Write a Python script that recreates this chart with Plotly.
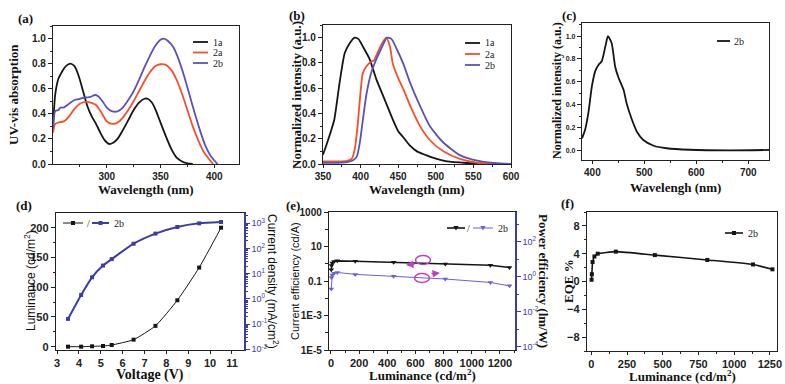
import plotly.graph_objects as go

W, H = 785, 384
SANS = "Liberation Sans"
SERIF = "Liberation Serif"
BLACK = "#151515"
RED = "#f4502a"
BLUE = "#5a52b8"
NAVY = "#3c3ca4"
PBLUE = "#6a62d0"
MAG = "#c040c0"

# ---------------- data ----------------
# (a) UV-vis absorption
a_1a_x = [250, 252, 255, 258, 262, 266, 270, 274, 278, 282, 286, 290, 294, 298, 302, 306, 310, 315, 320, 325, 330, 335, 338, 342, 346, 350, 355, 360, 365, 370, 375, 380]
a_1a_y = [0.28, 0.55, 0.68, 0.73, 0.78, 0.80, 0.78, 0.70, 0.58, 0.46, 0.38, 0.32, 0.25, 0.19, 0.16, 0.17, 0.20, 0.27, 0.35, 0.43, 0.49, 0.52, 0.52, 0.49, 0.42, 0.33, 0.22, 0.12, 0.05, 0.02, 0.005, 0.0]
a_2a_x = [250, 252, 255, 260, 265, 270, 275, 280, 285, 290, 295, 300, 305, 310, 315, 320, 325, 330, 335, 340, 345, 350, 355, 360, 365, 370, 375, 380, 385, 390, 395, 399]
a_2a_y = [0.25, 0.32, 0.33, 0.34, 0.38, 0.44, 0.48, 0.495, 0.49, 0.47, 0.41, 0.34, 0.32, 0.33, 0.37, 0.43, 0.50, 0.58, 0.66, 0.73, 0.78, 0.795, 0.79, 0.75, 0.67, 0.56, 0.43, 0.30, 0.19, 0.10, 0.04, 0.0]
a_2b_x = [250, 252, 255, 257, 260, 265, 270, 275, 280, 285, 289, 292, 296, 300, 305, 310, 315, 320, 325, 330, 335, 340, 345, 350, 353, 357, 362, 367, 372, 377, 382, 387, 392, 397, 403]
a_2b_y = [0.28, 0.42, 0.43, 0.45, 0.45, 0.48, 0.51, 0.52, 0.53, 0.535, 0.55, 0.54, 0.50, 0.45, 0.42, 0.42, 0.45, 0.51, 0.58, 0.67, 0.77, 0.86, 0.94, 0.99, 1.0, 0.98, 0.93, 0.83, 0.70, 0.55, 0.40, 0.26, 0.14, 0.06, 0.0]
a_names = ["1a", "2a", "2b"]

# (b) PL spectra
b_1a_x = [350, 354, 360, 365, 372, 379, 386, 392, 397, 403, 412, 421, 432, 443, 450, 457, 465, 475, 487, 497, 515, 541, 570, 600]
b_1a_y = [0.074, 0.14, 0.25, 0.35, 0.64, 0.88, 0.96, 1.0, 0.99, 0.93, 0.83, 0.67, 0.51, 0.35, 0.26, 0.21, 0.15, 0.10, 0.07, 0.048, 0.02, 0.008, 0.002, 0.0]
b_2a_x = [350, 370, 382, 388, 392, 396, 399, 403, 408, 414, 418, 421, 428, 434, 439, 443, 450, 457, 466, 479, 492, 510, 532, 555, 580, 600]
b_2a_y = [0.02, 0.02, 0.025, 0.04, 0.11, 0.30, 0.51, 0.72, 0.775, 0.81, 0.82, 0.86, 0.95, 1.0, 0.93, 0.79, 0.68, 0.59, 0.46, 0.30, 0.19, 0.10, 0.04, 0.01, 0.002, 0.0]
b_2b_x = [350, 370, 382, 390, 395, 399, 403, 408, 414, 421, 428, 435, 441, 448, 457, 466, 479, 492, 510, 532, 555, 577, 600]
b_2b_y = [0.01, 0.01, 0.015, 0.03, 0.06, 0.17, 0.35, 0.56, 0.72, 0.83, 0.92, 1.0, 0.99, 0.91, 0.79, 0.64, 0.46, 0.30, 0.17, 0.07, 0.026, 0.008, 0.0]
b_names = ["1a", "2a", "2b"]

# (c) EL spectrum 2b
c_x = [380, 386, 393, 399, 406, 412, 418, 425, 430, 437, 444, 450, 460, 466, 476, 486, 498, 518, 543, 588, 665, 740]
c_y = [0.105, 0.18, 0.35, 0.56, 0.70, 0.75, 0.78, 0.91, 1.0, 0.94, 0.73, 0.64, 0.53, 0.41, 0.27, 0.16, 0.09, 0.04, 0.018, 0.005, 0.0, 0.003]

# (d) L-J-V
d_volt = [3.5, 4.1, 4.6, 5.1, 5.5, 6.5, 7.5, 8.5, 9.5, 10.5]
d_lum = [0, 0, 0.6, 1.1, 2.8, 11.8, 35, 78, 133, 200]
d_cur = [0.16, 1.43, 7.2, 21, 38, 155, 390, 716, 1000, 1130]

# (e) efficiencies vs luminance
e_lum = [2, 4, 9, 22, 45, 172, 445, 812, 1132, 1268]
e_ce = [0.45, 0.8, 1.12, 1.34, 1.47, 1.4, 1.23, 0.98, 0.82, 0.6]
e_pe = [0.2, 0.9, 1.25, 1.6, 1.75, 1.36, 1.05, 0.74, 0.47, 0.3]

# (f) EQE vs luminance
f_lum = [2, 4, 9, 22, 45, 172, 445, 812, 1132, 1268]
f_eqe = [0.25, 1.05, 2.8, 3.6, 4.0, 4.3, 3.8, 3.1, 2.45, 1.75]

# ---------------- helpers ----------------
def px(x):
    return x / W

def py(y):
    return 1 - y / H

def dom_x(x0, x1):
    return [px(x0), px(x1)]

def dom_y(y_top, y_bot):
    return [py(y_bot), py(y_top)]

def axis(domain, rng, anchor, size=10, weight="bold", **kw):
    d = dict(domain=domain, range=rng, anchor=anchor, showline=True, linecolor="#222",
             linewidth=1.4, mirror=True, ticks="outside", ticklen=4, tickwidth=1,
             tickcolor="#222", showgrid=False, zeroline=False, automargin=False,
             tickfont=dict(family=SANS, size=size, color="#222", weight=weight))
    d.update(kw)
    return d

fig = go.Figure()

def spec(xs, ys, name, col, xa, ya):
    fig.add_trace(go.Scatter(x=xs, y=ys, name=name, mode="lines",
                             line=dict(color=col, width=1.8, shape="spline", smoothing=0.6),
                             xaxis=xa, yaxis=ya, showlegend=False))

# (a)
spec(a_1a_x, a_1a_y, a_names[0], BLACK, "x", "y")
spec(a_2a_x, a_2a_y, a_names[1], RED, "x", "y")
spec(a_2b_x, a_2b_y, a_names[2], BLUE, "x", "y")
# (b)
spec(b_1a_x, b_1a_y, b_names[0], BLACK, "x2", "y2")
spec(b_2a_x, b_2a_y, b_names[1], RED, "x2", "y2")
spec(b_2b_x, b_2b_y, b_names[2], BLUE, "x2", "y2")
# (c)
spec(c_x, c_y, "2b", BLACK, "x3", "y3")
# (d)
fig.add_trace(go.Scatter(x=d_volt, y=d_lum, name="/", mode="lines+markers", line=dict(color=BLACK, width=1, shape="spline", smoothing=0.5),
                         marker=dict(symbol="square", size=4, color=BLACK), xaxis="x4", yaxis="y4", showlegend=False))
fig.add_trace(go.Scatter(x=d_volt, y=d_cur, name="2b", mode="lines+markers", line=dict(color=NAVY, width=2, shape="spline", smoothing=0.5),
                         marker=dict(symbol="square", size=4, color=NAVY), xaxis="x4", yaxis="y7", showlegend=False))
# (e)
fig.add_trace(go.Scatter(x=e_lum, y=e_ce, name="/", mode="lines+markers", line=dict(color=BLACK, width=1.6),
                         marker=dict(symbol="triangle-down", size=5, color=BLACK), xaxis="x5", yaxis="y5", showlegend=False))
fig.add_trace(go.Scatter(x=e_lum, y=e_pe, name="2b", mode="lines+markers", line=dict(color=PBLUE, width=1),
                         marker=dict(symbol="triangle-down", size=5, color=PBLUE), xaxis="x5", yaxis="y8", showlegend=False))
# (f)
fig.add_trace(go.Scatter(x=f_lum, y=f_eqe, name="2b", mode="lines+markers", line=dict(color=BLACK, width=1.6, shape="spline", smoothing=0.4),
                         marker=dict(symbol="square", size=4, color=BLACK), xaxis="x6", yaxis="y6", showlegend=False))

minor_lin = lambda dt: dict(ticks="outside", ticklen=2, tickcolor="#222", dtick=dt)

logminor = [m * 10 ** k for k in range(-4, 4) for m in range(2, 10)]

layout = dict(
    width=W, height=H, margin=dict(l=0, r=0, t=0, b=0, autoexpand=False),
    paper_bgcolor="white", plot_bgcolor="white", showlegend=False,
    xaxis=axis(dom_x(53, 239), [250, 423], "y", ticklen=3, tickvals=[300, 350, 400], minor=dict(ticks="outside", ticklen=2, tickcolor="#222", tickvals=[275, 325, 375, 425])),
    yaxis=axis(dom_y(26, 164), [0, 1.1], "x", tickvals=[0, 0.2, 0.4, 0.6, 0.8, 1.0], tickformat=".1f", minor=minor_lin(0.1)),
    xaxis2=axis(dom_x(323, 511), [350, 600], "y2", ticklen=3, dtick=50, minor=minor_lin(25)),
    yaxis2=axis(dom_y(25, 164), [0, 1.1], "x2", tickvals=[0, 0.2, 0.4, 0.6, 0.8, 1.0], tickformat=".1f", minor=minor_lin(0.1)),
    xaxis3=axis(dom_x(582, 769), [380, 740], "y3", ticklen=3, tickvals=[400, 500, 600, 700], minor=dict(ticks="outside", ticklen=2, tickcolor="#222", tickvals=[450, 550, 650])),
    yaxis3=axis(dom_y(23, 160), [-0.085, 1.115], "x3", size=7, tickvals=[0, 0.2, 0.4, 0.6, 0.8, 1.0], tickformat=".1f", minor=minor_lin(0.1)),
    xaxis4=axis(dom_x(56, 244), [2.95, 11.55], "y4", size=11, dtick=1, ticklen=3),
    yaxis4=axis(dom_y(213, 350), [-5.6, 224.7], "x4", size=11, dtick=50, mirror=False, minor=minor_lin(25)),
    yaxis7=dict(overlaying="y4", side="right", anchor="x4", type="log", range=[-2.03, 3.41], showline=True, linecolor=NAVY,
                linewidth=1.6, ticks="outside", ticklen=4, tickcolor=NAVY, showgrid=False, zeroline=False, automargin=False,
                tickvals=[1e-2, 1e-1, 1, 10, 100, 1000],
                ticktext=["10<sup>-2</sup>", "10<sup>-1</sup>", "10<sup>0</sup>", "10<sup>1</sup>", "10<sup>2</sup>", "10<sup>3</sup>"],
                tickfont=dict(family=SANS, size=9, color=NAVY),
                minor=dict(ticks="outside", ticklen=2, tickcolor=NAVY, tickvals=logminor)),
    xaxis5=axis(dom_x(329, 515), [-14, 1307], "y5", size=11, dtick=200, ticklen=3, minor=minor_lin(100)),
    yaxis5=axis(dom_y(212, 350), [-5, 3], "x5", size=10, type="log", mirror=False,
                tickvals=[1e-5, 1e-3, 0.1, 10, 1000], ticktext=["1E-5", "1E-3", "0.1", "10", "1000"],
                minor=dict(ticks="outside", ticklen=3, tickcolor="#222", tickvals=[1e-4, 1e-2, 1, 100])),
    yaxis8=dict(overlaying="y5", side="right", anchor="x5", type="log", range=[-4.19, 3.7], showline=True, linecolor=NAVY,
                linewidth=1.6, ticks="outside", ticklen=4, tickcolor=NAVY, showgrid=False, zeroline=False, automargin=False,
                tickvals=[1e-4, 1e-2, 1, 100],
                ticktext=["10<sup>-4</sup>", "10<sup>-2</sup>", "10<sup>0</sup>", "10<sup>2</sup>"],
                tickfont=dict(family=SANS, size=9, color=NAVY),
                minor=dict(ticks="outside", ticklen=2, tickcolor=NAVY, tickvals=[1e-3, 1e-1, 10, 1000])),
    xaxis6=axis(dom_x(587, 777), [-30, 1300], "y6", size=11, ticklen=3, tickvals=[0, 250, 500, 750, 1000, 1250], minor=dict(ticks="outside", ticklen=2, tickcolor="#222", tickvals=[125, 375, 625, 875, 1125])),
    yaxis6=axis(dom_y(212, 351), [-10, 10], "x6", size=11, tickvals=[-8, -4, 0, 4, 8], minor=minor_lin(2)),
)
fig.update_layout(**layout)

def text(x, y, s, family=SERIF, size=13, angle=0, bold=False, color="#111", xanchor="center"):
    fig.add_annotation(x=px(x), y=py(y), xref="paper", yref="paper", text=s, showarrow=False,
                       textangle=angle, xanchor=xanchor, yanchor="middle",
                       font=dict(family=family, size=size, color=color, weight="bold" if bold else "normal"))

def leg_line(x0, x1, y, col, width):
    fig.add_shape(type="line", xref="paper", yref="paper", x0=px(x0), x1=px(x1), y0=py(y), y1=py(y),
                  line=dict(color=col, width=width))

def leg_square(cx, cy, col):
    fig.add_shape(type="rect", xref="paper", yref="paper", x0=px(cx - 2), x1=px(cx + 2), y0=py(cy + 2), y1=py(cy - 2),
                  line=dict(width=0), fillcolor=col)

def leg_tri(cx, cy, col):
    path = "M {} {} L {} {} L {} {} Z".format(px(cx - 2.6), py(cy - 2), px(cx + 2.6), py(cy - 2), px(cx), py(cy + 2.6))
    fig.add_shape(type="path", xref="paper", yref="paper", path=path, line=dict(width=0), fillcolor=col)

# legends (a), (b)
for x0, names, ys in [(193, a_names, [42, 52.5, 63]), (465, b_names, [43, 54, 65])]:
    for name, col, yy in zip(names, [BLACK, RED, BLUE], ys):
        leg_line(x0, x0 + 15, yy, col, 1.8)
        text(x0 + 18, yy, name, size=10, xanchor="left", color="#222")
# legend (c)
leg_line(717, 730, 41, BLACK, 1.8)
text(732, 41, "2b", size=10, xanchor="left", color="#222")
# legend (d)
leg_line(63, 83, 223, BLACK, 1)
leg_square(73, 223, BLACK)
text(88, 223, "/", size=10, color="#222")
leg_line(92, 109, 223, NAVY, 2)
leg_square(100.5, 223, NAVY)
text(112, 223, "2b", size=10, xanchor="left", color="#222")
# legend (e)
leg_line(447, 465, 228, BLACK, 1.6)
leg_tri(456, 228, BLACK)
text(468, 228, "/", size=10, color="#222")
leg_line(473, 493, 228, PBLUE, 1)
leg_tri(483, 228, PBLUE)
text(496, 228, "2b", size=10, xanchor="left", color="#222")
# legend (f)
leg_line(725, 743, 233, BLACK, 1.6)
leg_square(734, 233, BLACK)
text(746, 233, "2b", size=10, xanchor="left", color="#222")

# panel labels
for lx, ly, lab in [(25, 18, "(a)"), (297, 15, "(b)"), (569, 15, "(c)"), (24, 205, "(d)"), (293, 205, "(e)"), (567, 203, "(f)")]:
    text(lx, ly, lab, size=13, bold=True)

# axis titles
text(13, 95, "UV-vis absorption", size=13, angle=-90, bold=True)
text(146, 189, "Wavelength (nm)", size=13, bold=True)
text(296, 95, "Normalized intensity (a.u.)", size=13, angle=-90, bold=True)
text(417, 189, "Wavelength (nm)", size=13, bold=True)
text(557, 91, "Normalized intensity (a.u.)", size=12, angle=-90, bold=True)
text(675, 188, "Wavelengh (nm)", size=13, bold=True)
text(30, 281, "Luminance (cd/m<sup>2</sup>)", family=SANS, size=12, angle=-90)
text(150, 375, "Voltage (V)", size=14, bold=True)
text(273, 281, "Current density (mA/cm<sup>2</sup>)", family=SANS, size=12, angle=90)
text(295, 281, "Current efficiency (cd/A)", family=SANS, size=11, angle=-90)
text(422, 375, "Luminance (cd/m<sup>2</sup>)", size=13, bold=True)
text(544, 281, "Power efficiency (lm/W)", size=13, angle=90, bold=True)
text(568, 281, "EQE %", size=13, angle=-90, bold=True)
text(682, 376, "Luminance (cd/m<sup>2</sup>)", size=13, bold=True)

# magenta ellipses and arrows in (e)
for cx, cy in [(423, 260), (422, 278)]:
    fig.add_shape(type="circle", xref="paper", yref="paper", x0=px(cx - 7.5), x1=px(cx + 7.5),
                  y0=py(cy + 4.5), y1=py(cy - 4.5), line=dict(color=MAG, width=1.5))
fig.add_annotation(x=px(406), y=py(265), ax=10, ay=-1, xref="paper", yref="paper", axref="pixel", ayref="pixel",
                   text="", showarrow=True, arrowhead=2, arrowsize=1, arrowwidth=1.5, arrowcolor=MAG)
fig.add_annotation(x=px(440), y=py(273), ax=-10, ay=1, xref="paper", yref="paper", axref="pixel", ayref="pixel",
                   text="", showarrow=True, arrowhead=2, arrowsize=1, arrowwidth=1.5, arrowcolor=MAG)

fig.write_html("out.html", config={"displayModeBar": False},
               post_script="document.body.style.margin='0px';document.body.style.padding='0px';")
